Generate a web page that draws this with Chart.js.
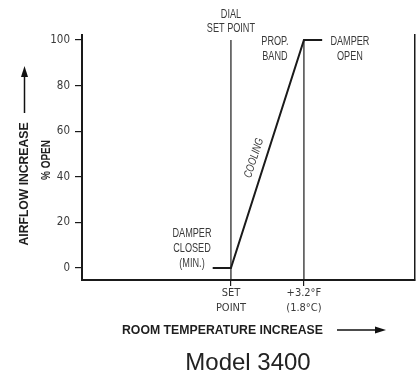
<!DOCTYPE html>
<html>
<head>
<meta charset="utf-8">
<script src="https://cdn.jsdelivr.net/npm/chart.js@4.4.1/dist/chart.umd.min.js"></script>
<style>
  html, body { margin: 0; padding: 0; background: #fff; }
  #wrap { width: 417px; height: 379px; }
</style>
</head>
<body>
<div id="wrap"><canvas id="damper-chart" width="417" height="379"></canvas></div>
<script>
// damper response, temperature offset from set point (°F) vs % open
const curveX = [-0.8, 0, 3.2, 4.0];
const curveY = [0, 0, 100, 100];

// reference lines: dial set point and end of prop. band
const markerX = [0, 3.2];
const markerTop = 100;

const xTickValues = [0, 3.2];
const xTickLabels = [['SET', 'POINT'], ['+3.2°F', '(1.8°C)']];
const yTickValues = [0, 20, 40, 60, 80, 100];

const xMin = -6.53, xMax = 8.07;
const yMin = -5.26, yMax = 102.2;

const NARROW = "'DejaVu Sans Condensed', 'Liberation Sans Narrow', sans-serif";
const SANS = "'Liberation Sans', Arial, sans-serif";
const INK = '#1a1a1a';
const TEXT = '#3a3a3a';

const markerSets = markerX.map(x => ({
    data: [{ x: x, y: yMin }, { x: x, y: markerTop }],
    borderColor: INK,
    borderWidth: 1.2,
    pointRadius: 0,
    fill: false
}));

// draw text squeezed horizontally, centred on (x, y)
function narrow(c, text, x, y, sx, angle) {
    c.save();
    c.translate(x, y);
    if (angle) c.rotate(angle);
    c.scale(sx, 1);
    c.fillText(text, 0, 0);
    c.restore();
}

// squeeze text to a given width
function fit(c, text, x, y, width, angle) {
    narrow(c, text, x, y, width / c.measureText(text).width, angle);
}

const notes = {
    id: 'notes',
    afterDraw(chart) {
        const c = chart.ctx;
        const xs = chart.scales.x;
        c.save();
        c.fillStyle = TEXT;
        c.textBaseline = 'middle';
        c.textAlign = 'center';
        c.font = '12.5px ' + SANS;
        const sx = 0.73;

        const px0 = xs.getPixelForValue(0);
        const px32 = xs.getPixelForValue(3.2);
        narrow(c, 'DIAL', px0, 15, sx);
        narrow(c, 'SET POINT', px0, 29, sx);
        narrow(c, 'PROP.', px32 - 29, 42, sx);
        narrow(c, 'BAND', px32 - 29, 57, sx);
        narrow(c, 'DAMPER', px32 + 46, 42, sx);
        narrow(c, 'OPEN', px32 + 46, 57, sx);
        narrow(c, 'DAMPER', 192, 234, sx);
        narrow(c, 'CLOSED', 192, 249, sx);
        narrow(c, '(MIN.)', 192, 264, sx);

        // label along the rising line
        c.font = 'italic 11.5px ' + SANS;
        fit(c, 'COOLING', 254, 158, 41, -72 * Math.PI / 180);

        // axis titles
        c.fillStyle = '#1e1e1e';
        c.font = 'bold 13.5px ' + SANS;
        fit(c, 'AIRFLOW INCREASE', 24.5, 184, 123, -Math.PI / 2);
        fit(c, '% OPEN', 46, 160, 40, -Math.PI / 2);
        fit(c, 'ROOM TEMPERATURE INCREASE', 222.5, 330, 201);

        c.strokeStyle = '#111';
        c.fillStyle = '#111';
        c.lineWidth = 1.5;
        // up arrow
        c.beginPath(); c.moveTo(24.5, 113); c.lineTo(24.5, 74); c.stroke();
        c.beginPath(); c.moveTo(24.5, 66); c.lineTo(21, 77); c.lineTo(28, 77); c.closePath(); c.fill();
        // right arrow
        c.beginPath(); c.moveTo(337, 330); c.lineTo(377, 330); c.stroke();
        c.beginPath(); c.moveTo(386, 330); c.lineTo(375, 326.5); c.lineTo(375, 333.5); c.closePath(); c.fill();

        c.fillStyle = '#222';
        c.font = '24px ' + SANS;
        c.fillText('Model 3400', 248, 363);
        c.restore();
    }
};

new Chart(document.getElementById('damper-chart').getContext('2d'), {
    type: 'line',
    data: {
        datasets: [{
            data: curveX.map((x, i) => ({ x: x, y: curveY[i] })),
            borderColor: INK,
            borderWidth: 2,
            pointRadius: 0,
            fill: false,
            tension: 0
        }].concat(markerSets)
    },
    options: {
        responsive: false,
        animation: false,
        layout: { padding: { top: 35, right: 0, bottom: 0, left: 0 } },
        plugins: { legend: { display: false }, tooltip: { enabled: false }, title: { display: false } },
        scales: {
            x: {
                type: 'linear',
                min: xMin,
                max: xMax,
                afterFit: s => { s.height = 99; },
                afterBuildTicks: s => { s.ticks = xTickValues.map(v => ({ value: v })); },
                border: { display: true, color: INK, width: 2 },
                grid: { drawOnChartArea: false, drawTicks: true, tickLength: 6, color: INK, lineWidth: 1.2 },
                ticks: {
                    padding: 0,
                    maxRotation: 0,
                    color: TEXT,
                    font: { family: NARROW, size: 11, lineHeight: 1.36 },
                    callback: (v) => {
                        const i = xTickValues.indexOf(v);
                        return i >= 0 ? xTickLabels[i] : '';
                    }
                }
            },
            y: {
                type: 'linear',
                min: yMin,
                max: yMax,
                afterFit: s => { s.width = 82; },
                afterBuildTicks: s => { s.ticks = yTickValues.map(v => ({ value: v })); },
                border: { display: true, color: INK, width: 2 },
                grid: { drawOnChartArea: false, drawTicks: true, tickLength: 7, color: INK, lineWidth: 1.2 },
                ticks: { padding: 5, color: TEXT, font: { family: NARROW, size: 11.5 } }
            },
            y2: {
                type: 'linear',
                position: 'right',
                min: yMin,
                max: yMax,
                afterFit: s => { s.width = 2; },
                border: { display: true, color: INK, width: 1.5 },
                grid: { display: false },
                ticks: { display: false }
            }
        }
    },
    plugins: [notes]
});
</script>
</body>
</html>
